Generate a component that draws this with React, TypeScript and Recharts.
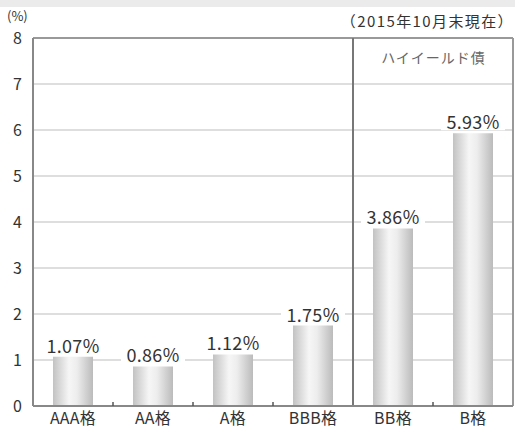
import { ComposedChart, Bar, XAxis, YAxis, CartesianGrid, ReferenceLine, LabelList } from 'recharts'

const FONT = '"Noto Sans CJK JP", "Noto Sans", sans-serif'
const X_TICK_MARGIN = 7

const categories = ['AAA格', 'AA格', 'A格', 'BBB格', 'BB格', 'B格']
const yields = [1.07, 0.86, 1.12, 1.75, 3.86, 5.93]
const yTicks = [0, 1, 2, 3, 4, 5, 6, 7, 8]
// small marks on the bottom axis at the left edge of these categories
const markedCategories = ['AA格', 'A格', 'BBB格', 'B格']

const data = categories.map((name, i) => ({ name, value: yields[i] }))

function ValueLabel(props: any) {
  const { x, y, width, value } = props
  const cx = x + width / 2
  const ty = y - 12
  const text = Number(value).toFixed(2) + '%'
  return (
    <g>
      <rect x={cx - 32} y={ty - 10} width={64} height={19} fill="#fff" />
      <text
        x={cx}
        y={ty}
        textAnchor="middle"
        dominantBaseline="central"
        fontFamily={FONT}
        fontSize={18}
        letterSpacing={0.3}
        fill="#333"
      >
        {text}
      </text>
    </g>
  )
}

function CategoryTick(props: any) {
  const { x, y, payload } = props
  const axisY = y - X_TICK_MARGIN
  const start = x - (payload.offset || 0)
  return (
    <g>
      {markedCategories.includes(payload.value) && (
        <line x1={start} x2={start} y1={axisY} y2={axisY - 4} stroke="#555" strokeWidth={1.5} />
      )}
      <text
        x={x}
        y={y}
        dy="0.71em"
        textAnchor="middle"
        fontFamily={FONT}
        fontSize={16}
        letterSpacing={0.3}
        fill="#333"
      >
        {payload.value}
      </text>
    </g>
  )
}

export default function App() {
  return (
    <div style={{ position: 'absolute', left: 0, top: 0, width: 515, height: 430, background: '#fff', fontFamily: FONT }}>
      <div style={{ position: 'absolute', left: 0, top: 0, width: 515, height: 7, background: '#ebebeb' }} />
      <div style={{ position: 'absolute', left: 7, top: 8, fontSize: 13, color: '#333', lineHeight: '15px' }}>(%)</div>
      <div
        style={{
          position: 'absolute',
          right: 1,
          top: 11,
          fontSize: 15,
          color: '#333',
          lineHeight: '20px',
          letterSpacing: 1.4,
          whiteSpace: 'nowrap',
        }}
      >
        （2015年10月末現在）
      </div>
      <div
        style={{
          position: 'absolute',
          left: 354,
          width: 159,
          top: 47,
          textAlign: 'center',
          fontSize: 14,
          color: '#666',
          lineHeight: '20px',
          letterSpacing: 1,
        }}
      >
        ハイイールド債
      </div>
      <ComposedChart
        width={515}
        height={430}
        data={data}
        margin={{ top: 38, right: 2, bottom: 0, left: 0 }}
        style={{ position: 'absolute', left: 0, top: 0 }}
      >
        <defs>
          <linearGradient id="barShade" x1="0" y1="0" x2="1" y2="0">
            <stop offset="0%" stopColor="#c2c2c2" />
            <stop offset="40%" stopColor="#f6f6f6" />
            <stop offset="60%" stopColor="#ededed" />
            <stop offset="100%" stopColor="#bbbbbb" />
          </linearGradient>
        </defs>
        <CartesianGrid horizontal vertical={false} stroke="#bdbdbd" />
        <XAxis
          dataKey="name"
          height={24}
          tickSize={0}
          tickMargin={X_TICK_MARGIN}
          tickLine={false}
          axisLine={{ stroke: '#888', strokeWidth: 2 }}
          tick={<CategoryTick />}
        />
        <YAxis
          domain={[0, 8]}
          ticks={yTicks}
          width={33}
          tickSize={0}
          tickMargin={11}
          tickLine={false}
          axisLine={{ stroke: '#888', strokeWidth: 2 }}
          tick={{ fill: '#333', fontSize: 16, fontFamily: FONT }}
        />
        <ReferenceLine y={8} stroke="#999" strokeWidth={2} />
        <ReferenceLine x="B格" position="end" stroke="#999" strokeWidth={2} />
        <ReferenceLine x="BB格" position="start" stroke="#777" strokeWidth={2} />
        <Bar dataKey="value" barSize={40} fill="url(#barShade)" isAnimationActive={false}>
          <LabelList dataKey="value" content={<ValueLabel />} />
        </Bar>
      </ComposedChart>
    </div>
  )
}
